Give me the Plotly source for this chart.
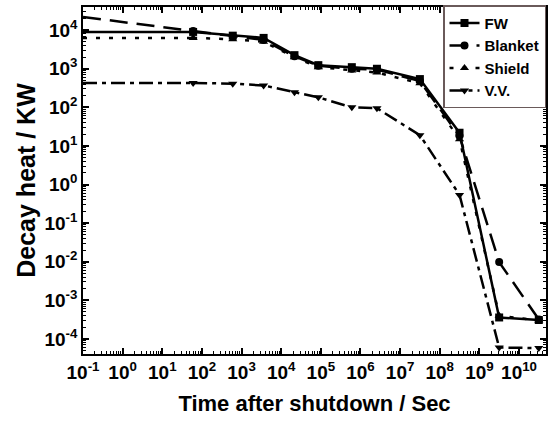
import plotly.graph_objects as go

times = [0.1, 60, 600, 3600, 21600, 86400, 604800, 2.6e6, 3.15e7, 3.15e8, 3.15e9, 3.15e10]
fw      = [9000, 9000, 7200, 6300, 2250, 1240, 1100, 1000, 540, 22, 3.6e-4, 3.1e-4]
blanket = [22000, 9500, 7000, 5600, 2100, 1200, 1000, 950, 480, 18, 9.8e-3, 3.2e-4]
shield  = [6300, 6300, 5800, 5000, 2000, 1100, 900, 800, 420, 15, 4.0e-4, 3.0e-4]
vv      = [430, 430, 410, 370, 245, 182, 100, 95, 19, 0.54, 6.0e-5, 5.8e-5]

x_exps = list(range(-1, 11))
y_exps = list(range(-4, 5))
x_ticktext = ["10<sup>%d</sup>" % e for e in x_exps]
y_ticktext = ["10<sup>%d</sup>" % e for e in y_exps]

names = ["FW", "Blanket", "Shield", "V.V."]
series = [fw, blanket, shield, vv]
symbols = ["square", "circle", "triangle-up", "triangle-down"]
dashes = ["solid", "18px,9px", "4px,9px", "14px,5px,4px,5px"]

fig = go.Figure()
for n, s, sym, d in zip(names, series, symbols, dashes):
    fig.add_trace(go.Scatter(
        x=times[1:], y=s[1:], name=n, mode="lines+markers",
        line=dict(color="black", width=2.5, dash=d),
        marker=dict(symbol=sym, size=8, color="black"),
        legendgroup=n,
    ))
    fig.add_trace(go.Scatter(
        x=times[:2], y=s[:2], mode="lines", showlegend=False,
        line=dict(color="black", width=2.5, dash=d), legendgroup=n,
    ))

common = dict(
    type="log", showgrid=False,
    ticks="inside", ticklen=6, tickwidth=1.5, tickcolor="black",
    linecolor="black", linewidth=1.5, mirror="allticks",
    minor=dict(ticks="inside", ticklen=3, dtick="D1", tickcolor="black", tickwidth=1),
    tickfont=dict(family="Liberation Sans, Arial", size=19, color="black", weight="bold"),
    zeroline=False,
)
fig.update_xaxes(range=[-1, 10.68], tickmode="array",
                 tickvals=[10.0 ** e for e in x_exps], ticktext=x_ticktext,
                 title=dict(text="Time after shutdown / Sec",
                            font=dict(family="Liberation Sans, Arial", size=22, color="black", weight="bold"),
                            standoff=14), **common)
fig.update_yaxes(range=[-4.39, 4.6], tickmode="array",
                 tickvals=[10.0 ** e for e in y_exps], ticktext=y_ticktext,
                 title=dict(text="Decay heat / KW",
                            font=dict(family="Liberation Sans, Arial", size=25, color="black", weight="bold"),
                            standoff=2), **common)

fig.update_layout(
    width=550, height=423,
    margin=dict(l=83, r=2, t=7, b=69),
    paper_bgcolor="white", plot_bgcolor="white",
    showlegend=True,
    legend=dict(x=1, y=1.005, xanchor="right", yanchor="top",
                bgcolor="white", bordercolor="#6a5a5a", borderwidth=1.5,
                font=dict(family="Liberation Sans, Arial", size=15, color="black", weight="bold"),
                tracegroupgap=0, itemwidth=30),
)
fig.write_html("out.html")
